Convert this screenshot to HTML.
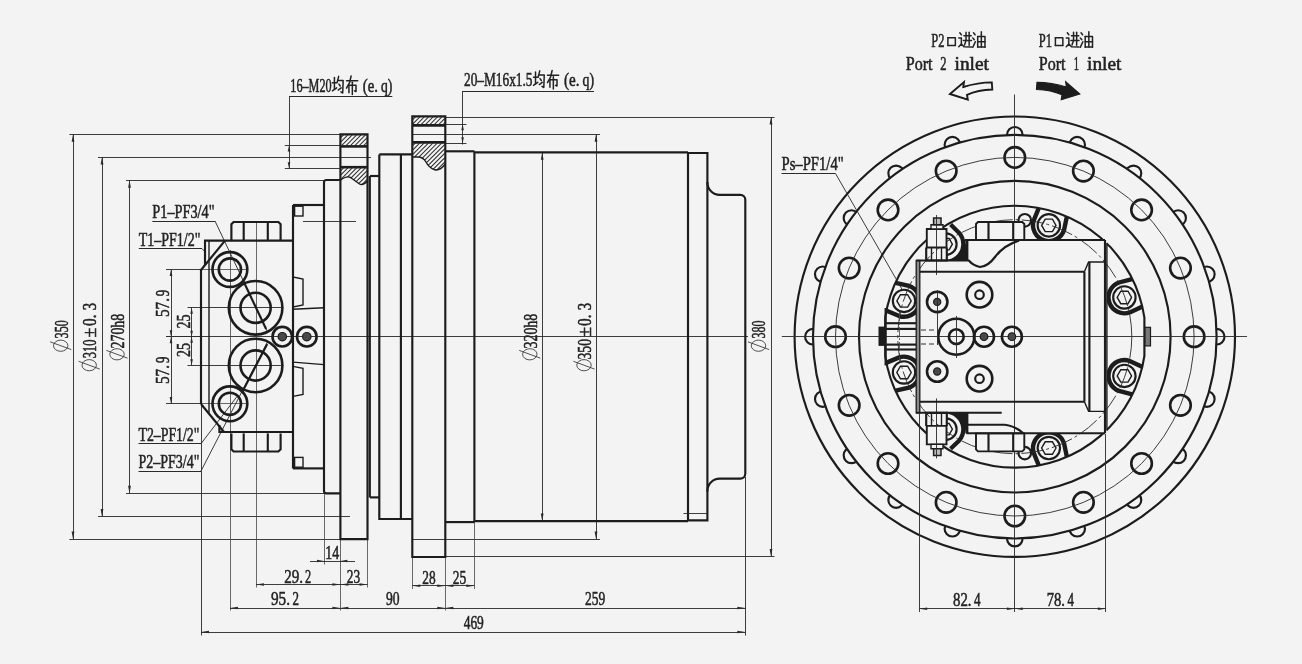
<!DOCTYPE html>
<html><head><meta charset="utf-8"><title>drawing</title>
<style>
html,body{margin:0;padding:0;background:#f3f3f3;}
body{width:1302px;height:664px;overflow:hidden;font-family:"Liberation Serif",serif;}
svg{display:block}
.k{fill:none;stroke:#1c1c1c;stroke-width:2.15;stroke-linecap:butt;stroke-linejoin:miter}
.k2{fill:none;stroke:#1c1c1c;stroke-width:2.6}
.m{fill:none;stroke:#1c1c1c;stroke-width:1.4}
.n{fill:none;stroke:#2c2c2c;stroke-width:0.92}
.u{fill:none;stroke:#2a2a2a;stroke-width:1.2}
.e{fill:none;stroke:#444;stroke-width:0.8}
.h{fill:none;stroke:#2a2a2a;stroke-width:1.05}
.a{fill:#2a2a2a;stroke:none}
.f{fill:#1c1c1c;stroke:none}
.g{fill:#4a4a4a;stroke:#1c1c1c;stroke-width:1.2}
.bg{fill:#f3f3f3;stroke:none}
.t{font-family:"Liberation Serif",serif;fill:#222;stroke:#222;stroke-width:0.55}
.c{fill:none;stroke:#222;stroke-width:1.5;stroke-linecap:round;stroke-linejoin:round}
</style></head><body>
<svg width="1302" height="664" viewBox="0 0 1302 664">
<defs><filter id="soft" x="0" y="0" width="100%" height="100%" filterUnits="userSpaceOnUse"><feGaussianBlur stdDeviation="0.42"/></filter></defs>
<rect class="bg" x="0" y="0" width="1302" height="664"/>
<g filter="url(#soft)">
<rect class="bg" x="0" y="0" width="1302" height="664"/>
<line class="n" x1="166.00" y1="336.50" x2="748.00" y2="336.50"/>
<line class="n" x1="69.40" y1="134.50" x2="340.40" y2="134.50"/>
<line class="n" x1="69.40" y1="539.50" x2="340.40" y2="539.50"/>
<line class="n" x1="73.50" y1="134.30" x2="73.50" y2="539.10"/>
<path class="a" d="M73.00,134.30 L74.40,141.80 L71.60,141.80 Z"/>
<path class="a" d="M73.00,539.10 L71.60,531.60 L74.40,531.60 Z"/>
<line class="n" x1="98.00" y1="157.50" x2="371.00" y2="157.50"/>
<line class="n" x1="98.00" y1="516.50" x2="350.00" y2="516.50"/>
<line class="n" x1="102.50" y1="157.00" x2="102.50" y2="516.40"/>
<path class="a" d="M102.00,157.00 L103.40,164.50 L100.60,164.50 Z"/>
<path class="a" d="M102.00,516.40 L100.60,508.90 L103.40,508.90 Z"/>
<line class="n" x1="126.00" y1="180.50" x2="324.00" y2="180.50"/>
<line class="n" x1="126.00" y1="493.50" x2="324.00" y2="493.50"/>
<line class="n" x1="129.50" y1="180.20" x2="129.50" y2="493.20"/>
<path class="a" d="M129.50,180.20 L130.90,187.70 L128.10,187.70 Z"/>
<path class="a" d="M129.50,493.20 L128.10,485.70 L130.90,485.70 Z"/>
<line class="n" x1="445.30" y1="117.50" x2="774.50" y2="117.50"/>
<line class="n" x1="445.30" y1="556.50" x2="774.50" y2="556.50"/>
<line class="n" x1="771.50" y1="117.00" x2="771.50" y2="556.40"/>
<path class="a" d="M771.00,117.00 L772.40,124.50 L769.60,124.50 Z"/>
<path class="a" d="M771.00,556.40 L769.60,548.90 L772.40,548.90 Z"/>
<line class="n" x1="412.30" y1="134.50" x2="600.00" y2="134.50"/>
<line class="n" x1="412.00" y1="539.50" x2="600.00" y2="539.50"/>
<line class="n" x1="596.50" y1="134.30" x2="596.50" y2="539.10"/>
<path class="a" d="M596.00,134.30 L597.40,141.80 L594.60,141.80 Z"/>
<path class="a" d="M596.00,539.10 L594.60,531.60 L597.40,531.60 Z"/>
<line class="n" x1="542.50" y1="152.30" x2="542.50" y2="521.10"/>
<path class="a" d="M542.20,152.30 L543.60,159.80 L540.80,159.80 Z"/>
<path class="a" d="M542.20,521.10 L540.80,513.60 L543.60,513.60 Z"/>
<line class="u" x1="289.00" y1="96.50" x2="392.30" y2="96.50"/>
<line class="n" x1="289.50" y1="96.70" x2="289.50" y2="169.00"/>
<line class="n" x1="284.80" y1="145.50" x2="340.40" y2="145.50"/>
<line class="n" x1="284.80" y1="168.50" x2="340.40" y2="168.50"/>
<path class="a" d="M289.00,145.40 L290.30,151.40 L287.70,151.40 Z"/>
<path class="a" d="M289.00,168.30 L287.70,162.30 L290.30,162.30 Z"/>
<line class="u" x1="462.60" y1="91.50" x2="594.00" y2="91.50"/>
<line class="n" x1="462.50" y1="91.00" x2="462.50" y2="144.50"/>
<line class="n" x1="445.30" y1="124.50" x2="466.50" y2="124.50"/>
<line class="n" x1="445.30" y1="143.50" x2="466.50" y2="143.50"/>
<path class="a" d="M462.60,124.30 L463.90,130.30 L461.30,130.30 Z"/>
<path class="a" d="M462.60,143.20 L461.30,137.20 L463.90,137.20 Z"/>
<line class="n" x1="166.00" y1="269.50" x2="201.50" y2="269.50"/>
<line class="n" x1="166.00" y1="336.50" x2="201.50" y2="336.50"/>
<line class="n" x1="166.00" y1="403.50" x2="201.50" y2="403.50"/>
<line class="n" x1="171.50" y1="269.60" x2="171.50" y2="403.60"/>
<path class="a" d="M171.00,269.60 L172.30,276.10 L169.70,276.10 Z"/>
<path class="a" d="M171.00,336.70 L169.70,330.20 L172.30,330.20 Z"/>
<path class="a" d="M171.00,336.70 L172.30,343.20 L169.70,343.20 Z"/>
<path class="a" d="M171.00,403.60 L169.70,397.10 L172.30,397.10 Z"/>
<line class="n" x1="187.50" y1="307.50" x2="281.00" y2="307.50"/>
<line class="n" x1="187.50" y1="365.50" x2="281.00" y2="365.50"/>
<line class="n" x1="191.50" y1="307.70" x2="191.50" y2="365.20"/>
<path class="a" d="M191.60,307.70 L192.90,313.70 L190.30,313.70 Z"/>
<path class="a" d="M191.60,336.70 L190.30,330.70 L192.90,330.70 Z"/>
<path class="a" d="M191.60,336.70 L192.90,342.70 L190.30,342.70 Z"/>
<path class="a" d="M191.60,365.20 L190.30,359.20 L192.90,359.20 Z"/>
<line class="e" x1="201.00" y1="269.50" x2="246.00" y2="269.50"/>
<line class="e" x1="201.00" y1="403.50" x2="246.00" y2="403.50"/>
<line class="e" x1="230.50" y1="250.00" x2="230.50" y2="610.50"/>
<line class="e" x1="256.50" y1="222.00" x2="256.50" y2="587.50"/>
<line class="n" x1="201.50" y1="404.00" x2="201.50" y2="635.50"/>
<line class="u" x1="152.30" y1="221.50" x2="215.00" y2="221.50"/>
<line class="n" x1="215.00" y1="221.00" x2="268.00" y2="333.00"/>
<line class="u" x1="138.80" y1="248.50" x2="202.00" y2="248.50"/>
<line class="n" x1="202.00" y1="248.60" x2="206.00" y2="253.00"/>
<line class="u" x1="138.50" y1="443.50" x2="201.00" y2="443.50"/>
<line class="n" x1="201.00" y1="443.70" x2="237.00" y2="396.50"/>
<line class="u" x1="138.50" y1="471.50" x2="201.00" y2="471.50"/>
<line class="n" x1="201.00" y1="471.00" x2="268.00" y2="341.00"/>
<line class="e" x1="324.50" y1="493.00" x2="324.50" y2="564.50"/>
<line class="e" x1="340.50" y1="539.50" x2="340.50" y2="610.50"/>
<line class="e" x1="367.50" y1="539.50" x2="367.50" y2="587.50"/>
<line class="e" x1="412.50" y1="556.70" x2="412.50" y2="589.00"/>
<line class="e" x1="445.50" y1="556.70" x2="445.50" y2="610.50"/>
<line class="e" x1="474.50" y1="522.00" x2="474.50" y2="589.00"/>
<line class="n" x1="745.50" y1="477.00" x2="745.50" y2="635.50"/>
<line class="n" x1="310.00" y1="561.50" x2="355.00" y2="561.50"/>
<path class="a" d="M324.00,561.00 L317.00,562.30 L317.00,559.70 Z"/>
<path class="a" d="M340.40,561.00 L347.40,559.70 L347.40,562.30 Z"/>
<line class="n" x1="256.00" y1="584.50" x2="367.50" y2="584.50"/>
<path class="a" d="M256.00,584.50 L264.00,583.20 L264.00,585.80 Z"/>
<path class="a" d="M340.40,584.50 L332.40,585.80 L332.40,583.20 Z"/>
<path class="a" d="M340.40,584.50 L348.40,583.20 L348.40,585.80 Z"/>
<path class="a" d="M367.50,584.50 L359.50,585.80 L359.50,583.20 Z"/>
<line class="n" x1="412.30" y1="585.50" x2="474.40" y2="585.50"/>
<path class="a" d="M412.30,585.70 L420.30,584.40 L420.30,587.00 Z"/>
<path class="a" d="M445.30,585.70 L437.30,587.00 L437.30,584.40 Z"/>
<path class="a" d="M445.30,585.70 L453.30,584.40 L453.30,587.00 Z"/>
<path class="a" d="M474.40,585.70 L466.40,587.00 L466.40,584.40 Z"/>
<line class="n" x1="230.00" y1="608.50" x2="445.30" y2="608.50"/>
<path class="a" d="M230.00,608.00 L238.00,606.70 L238.00,609.30 Z"/>
<path class="a" d="M340.40,608.00 L332.40,609.30 L332.40,606.70 Z"/>
<path class="a" d="M340.40,608.00 L348.40,606.70 L348.40,609.30 Z"/>
<path class="a" d="M445.30,608.00 L437.30,609.30 L437.30,606.70 Z"/>
<line class="n" x1="445.30" y1="608.50" x2="745.30" y2="608.50"/>
<path class="a" d="M445.30,608.00 L453.30,606.70 L453.30,609.30 Z"/>
<path class="a" d="M745.30,608.00 L737.30,609.30 L737.30,606.70 Z"/>
<line class="n" x1="201.00" y1="632.50" x2="745.30" y2="632.50"/>
<path class="a" d="M201.00,632.00 L209.00,630.70 L209.00,633.30 Z"/>
<path class="a" d="M745.30,632.00 L737.30,633.30 L737.30,630.70 Z"/>
<path class="k" d="M205.00,265.00 L205.00,240.60 L293.00,240.60"/>
<line class="k" x1="225.00" y1="240.60" x2="200.60" y2="270.50"/>
<line class="k" x1="201.00" y1="270.00" x2="201.00" y2="404.00"/>
<line class="k" x1="201.00" y1="404.00" x2="224.00" y2="432.00"/>
<line class="m" x1="209.00" y1="240.60" x2="209.00" y2="413.00"/>
<path class="k" d="M219.40,425.00 L219.40,432.00 L293.00,432.00"/>
<line class="k" x1="293.00" y1="205.00" x2="293.00" y2="468.40"/>
<path class="k" d="M231.40,240.60 L231.40,224.20 L233.60,222.00 L278.40,222.00 L280.60,224.20 L280.60,240.60"/>
<line class="k" x1="243.70" y1="240.60" x2="243.70" y2="222.00"/>
<line class="k" x1="267.80" y1="240.60" x2="267.80" y2="222.00"/>
<path class="k" d="M231.40,433.40 L231.40,449.30 L233.60,451.50 L278.40,451.50 L280.60,449.30 L280.60,433.40"/>
<line class="k" x1="243.70" y1="433.40" x2="243.70" y2="451.50"/>
<line class="k" x1="267.80" y1="433.40" x2="267.80" y2="451.50"/>
<circle class="k2" cx="229.90" cy="269.50" r="17.40"/>
<circle class="k2" cx="229.90" cy="269.50" r="11.10"/>
<circle class="k2" cx="229.90" cy="403.80" r="17.40"/>
<circle class="k2" cx="229.90" cy="403.80" r="11.10"/>
<circle class="k2" cx="255.60" cy="307.80" r="26.80"/>
<circle class="k2" cx="255.60" cy="307.80" r="15.10"/>
<circle class="k2" cx="255.60" cy="365.50" r="26.80"/>
<circle class="k2" cx="255.60" cy="365.50" r="15.10"/>
<circle class="k2" cx="282.30" cy="336.70" r="9.80"/>
<circle class="g" cx="282.30" cy="336.70" r="4.20"/>
<circle class="k2" cx="306.80" cy="336.70" r="9.80"/>
<circle class="g" cx="306.80" cy="336.70" r="4.20"/>
<line class="k" x1="242.90" y1="280.00" x2="266.10" y2="329.00"/>
<line class="k" x1="241.70" y1="393.00" x2="267.20" y2="344.00"/>
<path class="k" d="M293.00,205.00 L324.00,205.00"/>
<path class="k" d="M293.00,468.40 L324.00,468.40"/>
<rect class="m" x="294.60" y="206.20" width="8.40" height="9.80"/>
<rect class="m" x="294.60" y="457.40" width="8.40" height="9.80"/>
<line class="n" x1="303.00" y1="221.50" x2="356.00" y2="221.50"/>
<path class="m" d="M293.00,277.00 L303.00,279.00 L303.00,305.00 L293.00,307.00"/>
<line class="m" x1="293.00" y1="309.30" x2="324.00" y2="307.80"/>
<path class="m" d="M293.00,396.40 L303.00,394.40 L303.00,368.40 L293.00,366.40"/>
<line class="m" x1="293.00" y1="362.10" x2="324.00" y2="364.60"/>
<path class="k" d="M340.4,180 L326.5,180 Q324,180 324,182.5 L324,490.90 Q324,493.40 326.5,493.40 L340.4,493.40"/>
<path class="k" d="M340.40,134.30 L367.50,134.30 L367.50,539.10 L340.40,539.10 Z"/>
<line class="k" x1="369.80" y1="176.00" x2="369.80" y2="497.40"/>
<line class="k2" x1="340.40" y1="146.40" x2="367.50" y2="146.40"/>
<line class="k2" x1="340.40" y1="167.20" x2="367.50" y2="167.20"/>
<clipPath id="hc1"><path d="M340.4,134.3 H367.5 V146.4 H340.4 Z"/></clipPath>
<g clip-path="url(#hc1)">
<line class="h" x1="327.00" y1="147.00" x2="340.00" y2="134.00"/>
<line class="h" x1="331.40" y1="147.00" x2="344.40" y2="134.00"/>
<line class="h" x1="335.80" y1="147.00" x2="348.80" y2="134.00"/>
<line class="h" x1="340.20" y1="147.00" x2="353.20" y2="134.00"/>
<line class="h" x1="344.60" y1="147.00" x2="357.60" y2="134.00"/>
<line class="h" x1="349.00" y1="147.00" x2="362.00" y2="134.00"/>
<line class="h" x1="353.40" y1="147.00" x2="366.40" y2="134.00"/>
<line class="h" x1="357.80" y1="147.00" x2="370.80" y2="134.00"/>
<line class="h" x1="362.20" y1="147.00" x2="375.20" y2="134.00"/>
<line class="h" x1="366.60" y1="147.00" x2="379.60" y2="134.00"/>
<line class="h" x1="371.00" y1="147.00" x2="384.00" y2="134.00"/>
<line class="h" x1="375.40" y1="147.00" x2="388.40" y2="134.00"/>
<line class="h" x1="379.80" y1="147.00" x2="392.80" y2="134.00"/>
</g>
<clipPath id="hc2"><path d="M340.4,167.2 H367.5 V181 Q363,186 359.5,184 Q354,180 350.5,177.5 Q346.5,175.5 340.4,180.3 Z"/></clipPath>
<g clip-path="url(#hc2)">
<line class="h" x1="320.00" y1="187.00" x2="340.00" y2="167.00"/>
<line class="h" x1="324.40" y1="187.00" x2="344.40" y2="167.00"/>
<line class="h" x1="328.80" y1="187.00" x2="348.80" y2="167.00"/>
<line class="h" x1="333.20" y1="187.00" x2="353.20" y2="167.00"/>
<line class="h" x1="337.60" y1="187.00" x2="357.60" y2="167.00"/>
<line class="h" x1="342.00" y1="187.00" x2="362.00" y2="167.00"/>
<line class="h" x1="346.40" y1="187.00" x2="366.40" y2="167.00"/>
<line class="h" x1="350.80" y1="187.00" x2="370.80" y2="167.00"/>
<line class="h" x1="355.20" y1="187.00" x2="375.20" y2="167.00"/>
<line class="h" x1="359.60" y1="187.00" x2="379.60" y2="167.00"/>
<line class="h" x1="364.00" y1="187.00" x2="384.00" y2="167.00"/>
<line class="h" x1="368.40" y1="187.00" x2="388.40" y2="167.00"/>
<line class="h" x1="372.80" y1="187.00" x2="392.80" y2="167.00"/>
<line class="h" x1="377.20" y1="187.00" x2="397.20" y2="167.00"/>
<line class="h" x1="381.60" y1="187.00" x2="401.60" y2="167.00"/>
<line class="h" x1="386.00" y1="187.00" x2="406.00" y2="167.00"/>
</g>
<path class="m" d="M340.4,180.3 Q346.5,175.5 350.5,177.5 Q354,180 359.5,184 Q363,186 367.5,181"/>
<path class="k" d="M370.00,176.00 L379.30,176.00"/>
<path class="k" d="M370.00,497.40 L379.30,497.40"/>
<path class="k" d="M379.30,154.40 L379.30,519.00 L412.00,519.00"/>
<path class="k" d="M379.30,154.40 L412.00,154.40"/>
<line class="k" x1="400.90" y1="154.40" x2="400.90" y2="519.00"/>
<path class="k" d="M412.30,116.40 L445.30,116.40 L445.30,557.00 L412.30,557.00 Z"/>
<line class="k2" x1="412.30" y1="125.40" x2="445.30" y2="125.40"/>
<line class="k2" x1="412.30" y1="142.40" x2="445.30" y2="142.40"/>
<clipPath id="hc3"><path d="M412.3,116.4 H445.3 V125.4 H412.3 Z"/></clipPath>
<g clip-path="url(#hc3)">
<line class="h" x1="402.00" y1="126.00" x2="412.00" y2="116.00"/>
<line class="h" x1="406.40" y1="126.00" x2="416.40" y2="116.00"/>
<line class="h" x1="410.80" y1="126.00" x2="420.80" y2="116.00"/>
<line class="h" x1="415.20" y1="126.00" x2="425.20" y2="116.00"/>
<line class="h" x1="419.60" y1="126.00" x2="429.60" y2="116.00"/>
<line class="h" x1="424.00" y1="126.00" x2="434.00" y2="116.00"/>
<line class="h" x1="428.40" y1="126.00" x2="438.40" y2="116.00"/>
<line class="h" x1="432.80" y1="126.00" x2="442.80" y2="116.00"/>
<line class="h" x1="437.20" y1="126.00" x2="447.20" y2="116.00"/>
<line class="h" x1="441.60" y1="126.00" x2="451.60" y2="116.00"/>
<line class="h" x1="446.00" y1="126.00" x2="456.00" y2="116.00"/>
<line class="h" x1="450.40" y1="126.00" x2="460.40" y2="116.00"/>
<line class="h" x1="454.80" y1="126.00" x2="464.80" y2="116.00"/>
</g>
<clipPath id="hc4"><path d="M412.3,142.4 H445.3 V164 Q440,171 434.8,169.8 Q429,168 426,162 Q423,157 418,157 L412.3,157 Z"/></clipPath>
<g clip-path="url(#hc4)">
<line class="h" x1="383.00" y1="171.00" x2="412.00" y2="142.00"/>
<line class="h" x1="387.40" y1="171.00" x2="416.40" y2="142.00"/>
<line class="h" x1="391.80" y1="171.00" x2="420.80" y2="142.00"/>
<line class="h" x1="396.20" y1="171.00" x2="425.20" y2="142.00"/>
<line class="h" x1="400.60" y1="171.00" x2="429.60" y2="142.00"/>
<line class="h" x1="405.00" y1="171.00" x2="434.00" y2="142.00"/>
<line class="h" x1="409.40" y1="171.00" x2="438.40" y2="142.00"/>
<line class="h" x1="413.80" y1="171.00" x2="442.80" y2="142.00"/>
<line class="h" x1="418.20" y1="171.00" x2="447.20" y2="142.00"/>
<line class="h" x1="422.60" y1="171.00" x2="451.60" y2="142.00"/>
<line class="h" x1="427.00" y1="171.00" x2="456.00" y2="142.00"/>
<line class="h" x1="431.40" y1="171.00" x2="460.40" y2="142.00"/>
<line class="h" x1="435.80" y1="171.00" x2="464.80" y2="142.00"/>
<line class="h" x1="440.20" y1="171.00" x2="469.20" y2="142.00"/>
<line class="h" x1="444.60" y1="171.00" x2="473.60" y2="142.00"/>
<line class="h" x1="449.00" y1="171.00" x2="478.00" y2="142.00"/>
<line class="h" x1="453.40" y1="171.00" x2="482.40" y2="142.00"/>
<line class="h" x1="457.80" y1="171.00" x2="486.80" y2="142.00"/>
<line class="h" x1="462.20" y1="171.00" x2="491.20" y2="142.00"/>
<line class="h" x1="466.60" y1="171.00" x2="495.60" y2="142.00"/>
<line class="h" x1="471.00" y1="171.00" x2="500.00" y2="142.00"/>
</g>
<path class="m" d="M412.3,157 L418,157 Q423,157 426,162 Q429,168 434.8,169.8 Q440,171 445.3,164"/>
<path class="k" d="M445.30,151.30 L474.40,151.30"/>
<path class="k" d="M445.30,522.10 L474.40,522.10"/>
<line class="k" x1="474.40" y1="151.30" x2="474.40" y2="522.10"/>
<path class="k" d="M474.40,152.30 L688.00,152.30"/>
<path class="k" d="M474.40,521.10 L688.00,521.10"/>
<line class="k" x1="688.00" y1="152.30" x2="688.00" y2="521.10"/>
<path class="k" d="M688,153 L707.4,153 L707.4,182.5 A12.3,12.3 0 0,0 719.7,194.8 L740.3,194.8 A5,5 0 0,1 745.3,199.8 L745.3,473.60 A5,5 0 0,1 740.3,478.60 L719.7,478.60 A12.3,12.3 0 0,0 707.4,490.90 L707.4,520.40 L688,520.40"/>
<line class="k" x1="707.40" y1="182.00" x2="707.40" y2="491.40"/>
<line class="n" x1="683.50" y1="513.50" x2="707.00" y2="513.50"/>
<circle class="k" cx="1014.80" cy="336.70" r="220.20"/>
<circle class="k" cx="1014.80" cy="336.70" r="201.80"/>
<circle class="k" cx="1014.80" cy="336.70" r="155.80"/>
<clipPath id="oc"><path clip-rule="evenodd" d="M774.8,96.69999999999999 h480 v480 h-480 Z M813.4,336.7 a201.4,201.4 0 1,0 402.8,0 a201.4,201.4 0 1,0 -402.8,0 Z"/></clipPath>
<g clip-path="url(#oc)">
<circle class="k" cx="1014.80" cy="134.80" r="7.80"/>
<circle class="k" cx="1077.19" cy="144.68" r="7.80"/>
<circle class="k" cx="1133.47" cy="173.36" r="7.80"/>
<circle class="k" cx="1178.14" cy="218.03" r="7.80"/>
<circle class="k" cx="1206.82" cy="274.31" r="7.80"/>
<circle class="k" cx="1216.70" cy="336.70" r="7.80"/>
<circle class="k" cx="1206.82" cy="399.09" r="7.80"/>
<circle class="k" cx="1178.14" cy="455.37" r="7.80"/>
<circle class="k" cx="1133.47" cy="500.04" r="7.80"/>
<circle class="k" cx="1077.19" cy="528.72" r="7.80"/>
<circle class="k" cx="1014.80" cy="538.60" r="7.80"/>
<circle class="k" cx="952.41" cy="528.72" r="7.80"/>
<circle class="k" cx="896.13" cy="500.04" r="7.80"/>
<circle class="k" cx="851.46" cy="455.37" r="7.80"/>
<circle class="k" cx="822.78" cy="399.09" r="7.80"/>
<circle class="k" cx="812.90" cy="336.70" r="7.80"/>
<circle class="k" cx="822.78" cy="274.31" r="7.80"/>
<circle class="k" cx="851.46" cy="218.03" r="7.80"/>
<circle class="k" cx="896.13" cy="173.36" r="7.80"/>
<circle class="k" cx="952.41" cy="144.68" r="7.80"/>
</g>
<circle class="k2" cx="1014.80" cy="157.40" r="10.30"/>
<circle class="k2" cx="1083.42" cy="171.05" r="10.30"/>
<circle class="k2" cx="1141.58" cy="209.92" r="10.30"/>
<circle class="k2" cx="1180.45" cy="268.08" r="10.30"/>
<circle class="k2" cx="1194.10" cy="336.70" r="10.30"/>
<circle class="k2" cx="1180.45" cy="405.32" r="10.30"/>
<circle class="k2" cx="1141.58" cy="463.48" r="10.30"/>
<circle class="k2" cx="1083.42" cy="502.35" r="10.30"/>
<circle class="k2" cx="1014.80" cy="516.00" r="10.30"/>
<circle class="k2" cx="946.18" cy="502.35" r="10.30"/>
<circle class="k2" cx="888.02" cy="463.48" r="10.30"/>
<circle class="k2" cx="849.15" cy="405.32" r="10.30"/>
<circle class="k2" cx="835.50" cy="336.70" r="10.30"/>
<circle class="k2" cx="849.15" cy="268.08" r="10.30"/>
<circle class="k2" cx="888.02" cy="209.92" r="10.30"/>
<circle class="k2" cx="946.18" cy="171.05" r="10.30"/>
<path class="k" d="M1144.40,317.60 A131,131 0 0,0 885.20,317.60 L885.20,355.80 A131,131 0 0,0 1144.40,355.80 Z"/>
<path d="M1066.84,216.77 L1064.04,230.03 A15.9,15.9 0 0,1 1033.63,220.74 L1038.72,208.18" fill="none" stroke="#1c1c1c" stroke-width="4.4"/>
<circle class="k" cx="1048.83" cy="225.39" r="11.20"/>
<path class="m" d="M1056.03,225.39 L1052.43,231.62 L1045.23,231.62 L1041.63,225.39 L1045.23,219.15 L1052.43,219.15 Z"/>
<path d="M1142.05,306.75 L1129.75,312.43 A15.9,15.9 0 0,1 1119.03,282.49 L1132.14,279.07" fill="none" stroke="#1c1c1c" stroke-width="4.4"/>
<circle class="k" cx="1124.39" cy="297.46" r="11.20"/>
<path class="m" d="M1131.59,297.46 L1127.99,303.70 L1120.79,303.70 L1117.19,297.46 L1120.79,291.23 L1127.99,291.23 Z"/>
<path d="M1132.14,394.33 L1119.03,390.91 A15.9,15.9 0 0,1 1129.75,360.97 L1142.05,366.65" fill="none" stroke="#1c1c1c" stroke-width="4.4"/>
<circle class="k" cx="1124.39" cy="375.94" r="11.20"/>
<path class="m" d="M1131.59,375.94 L1127.99,382.17 L1120.79,382.17 L1117.19,375.94 L1120.79,369.70 L1127.99,369.70 Z"/>
<path d="M1038.72,465.22 L1033.63,452.66 A15.9,15.9 0 0,1 1064.04,443.37 L1066.84,456.63" fill="none" stroke="#1c1c1c" stroke-width="4.4"/>
<circle class="k" cx="1048.83" cy="448.01" r="11.20"/>
<path class="m" d="M1056.03,448.01 L1052.43,454.25 L1045.23,454.25 L1041.63,448.01 L1045.23,441.78 L1052.43,441.78 Z"/>
<path d="M886.67,362.64 L899.15,357.35 A15.9,15.9 0 0,1 908.92,387.61 L895.71,390.61" fill="none" stroke="#1c1c1c" stroke-width="4.4"/>
<circle class="k" cx="904.03" cy="372.48" r="11.20"/>
<path class="m" d="M911.23,372.48 L907.63,378.71 L900.43,378.71 L896.83,372.48 L900.43,366.24 L907.63,366.24 Z"/>
<path d="M895.71,282.79 L908.92,285.79 A15.9,15.9 0 0,1 899.15,316.05 L886.67,310.76" fill="none" stroke="#1c1c1c" stroke-width="4.4"/>
<circle class="k" cx="904.03" cy="300.92" r="11.20"/>
<path class="m" d="M911.23,300.92 L907.63,307.16 L900.43,307.16 L896.83,300.92 L900.43,294.69 L907.63,294.69 Z"/>
<path d="M916.2,260.5 L966,260.5 L966,240 L1106.9,240 L1106.9,433.2 L966,433.2 L966,412.7 L916.2,412.7 Z" fill="#f3f3f3"/>
<line class="n" x1="1014.50" y1="94.50" x2="1014.50" y2="612.00"/>
<line class="n" x1="781.80" y1="336.50" x2="1247.00" y2="336.50"/>
<circle class="n" cx="1014.80" cy="336.70" r="179.30"/>
<circle class="n" cx="1014.8" cy="336.7" r="117" stroke-dasharray="22 3 3 3"/>
<line class="n" x1="919.50" y1="414.00" x2="919.50" y2="612.00"/>
<line class="n" x1="1105.50" y1="434.00" x2="1105.50" y2="612.00"/>
<line class="n" x1="919.20" y1="608.50" x2="1105.80" y2="608.50"/>
<path class="a" d="M919.20,608.70 L927.20,607.40 L927.20,610.00 Z"/>
<path class="a" d="M1014.80,608.70 L1006.80,610.00 L1006.80,607.40 Z"/>
<path class="a" d="M1014.80,608.70 L1022.80,607.40 L1022.80,610.00 Z"/>
<path class="a" d="M1105.80,608.70 L1097.80,610.00 L1097.80,607.40 Z"/>
<line class="u" x1="781.50" y1="173.50" x2="835.50" y2="173.50"/>
<line class="n" x1="835.50" y1="173.50" x2="903.00" y2="291.00"/>
<clipPath id="fb2"><rect x="946.8" y="205.00" width="34" height="55.5"/></clipPath>
<g clip-path="url(#fb2)">
<path d="M950.57,224.53 L959.21,232.95 A17.5,17.5 0 0,1 932.39,255.45 L925.60,245.48" fill="none" stroke="#1c1c1c" stroke-width="4.2"/>
<circle class="k" cx="945.80" cy="244.20" r="10.80"/>
<path class="m" d="M952.40,244.20 L949.10,249.92 L942.50,249.92 L939.20,244.20 L942.50,238.48 L949.10,238.48 Z"/>
<path d="M952,261.00 L968.4,261.00 L968.4,240.00 L965.5,240.00 Q966,254.00 952,261.00 Z" fill="#1c1c1c"/>
</g>
<path d="M926.8,247.50 L926.8,229.00 L946.5,229.00 L946.5,247.50 Z" fill="#f3f3f3" stroke="#1c1c1c" stroke-width="1.9"/>
<path d="M931,229.00 L931,224.70 L943,224.70 L943,229.00 Z" fill="#f3f3f3" stroke="#1c1c1c" stroke-width="1.4"/>
<path d="M933.6,224.70 L933.6,218.00 L941,218.00 L941,224.70 Z" fill="#bbb" stroke="#1c1c1c" stroke-width="1.5"/>
<path class="k" d="M926.20,247.50 L926.20,260.50 L946.80,260.50 L946.80,247.50"/>
<line class="m" x1="931.50" y1="247.50" x2="931.50" y2="260.50"/>
<line class="m" x1="941.50" y1="247.50" x2="941.50" y2="260.50"/>
<line class="n" x1="936.50" y1="215.00" x2="936.50" y2="275.00"/>
<circle class="k" cx="1024.80" cy="220.30" r="6.30"/>
<path d="M976,240.00 L976,224.00 L978,222.00 L1022.3,222.00 L1024.3,224.00 L1024.3,240.00 Z" fill="#f3f3f3" stroke="#1c1c1c" stroke-width="1.9"/>
<line class="k" x1="988.50" y1="240.00" x2="988.50" y2="222.50"/>
<line class="k" x1="1013.20" y1="240.00" x2="1013.20" y2="222.50"/>
<clipPath id="fb0"><rect x="946.8" y="412.90" width="34" height="55.5"/></clipPath>
<g clip-path="url(#fb0)">
<path d="M925.60,427.92 L932.39,417.95 A17.5,17.5 0 0,1 959.21,440.45 L950.57,448.87" fill="none" stroke="#1c1c1c" stroke-width="4.2"/>
<circle class="k" cx="945.80" cy="429.20" r="10.80"/>
<path class="m" d="M952.40,429.20 L949.10,434.92 L942.50,434.92 L939.20,429.20 L942.50,423.48 L949.10,423.48 Z"/>
<path d="M952,412.40 L968.4,412.40 L968.4,433.40 L965.5,433.40 Q966,419.40 952,412.40 Z" fill="#1c1c1c"/>
</g>
<path d="M926.8,425.90 L926.8,444.40 L946.5,444.40 L946.5,425.90 Z" fill="#f3f3f3" stroke="#1c1c1c" stroke-width="1.9"/>
<path d="M931,444.40 L931,448.70 L943,448.70 L943,444.40 Z" fill="#f3f3f3" stroke="#1c1c1c" stroke-width="1.4"/>
<path d="M933.6,448.70 L933.6,455.40 L941,455.40 L941,448.70 Z" fill="#bbb" stroke="#1c1c1c" stroke-width="1.5"/>
<path class="k" d="M926.20,425.90 L926.20,412.90 L946.80,412.90 L946.80,425.90"/>
<line class="m" x1="931.50" y1="425.90" x2="931.50" y2="412.90"/>
<line class="m" x1="941.50" y1="425.90" x2="941.50" y2="412.90"/>
<line class="n" x1="936.50" y1="458.40" x2="936.50" y2="398.40"/>
<circle class="k" cx="1024.80" cy="453.10" r="6.30"/>
<path d="M976,433.40 L976,449.40 L978,451.40 L1022.3,451.40 L1024.3,449.40 L1024.3,433.40 Z" fill="#f3f3f3" stroke="#1c1c1c" stroke-width="1.9"/>
<line class="k" x1="988.50" y1="433.40" x2="988.50" y2="450.90"/>
<line class="k" x1="1013.20" y1="433.40" x2="1013.20" y2="450.90"/>
<rect x="916.2" y="260.5" width="3.6" height="152.40" fill="#8a8a8a" stroke="#1c1c1c" stroke-width="1.3"/>
<path class="k" d="M916.2,260.5 L968.8,260.5 Q973,265.5 980,267 Q988,266.5 995,257 Q1004,245 1019,240.6"/>
<line class="k" x1="965.00" y1="240.00" x2="1105.00" y2="240.00"/>
<line class="k" x1="916.20" y1="412.70" x2="1001.70" y2="412.70"/>
<path class="k" d="M966.5,424.7 L1004.8,424.7 Q1015,426 1023,433"/>
<line class="k" x1="966.50" y1="433.20" x2="1105.00" y2="433.20"/>
<line class="m" x1="966.50" y1="412.70" x2="966.50" y2="433.20"/>
<line class="k" x1="1105.00" y1="240.00" x2="1105.00" y2="433.20"/>
<line class="m" x1="1106.90" y1="243.00" x2="1106.90" y2="430.50"/>
<line class="k" x1="919.80" y1="271.70" x2="1084.40" y2="271.70"/>
<line class="k" x1="919.80" y1="401.70" x2="1084.40" y2="401.70"/>
<line class="k" x1="1084.40" y1="271.70" x2="1084.40" y2="401.70"/>
<path class="m" d="M1084.40,271.70 L1088.60,262.00 L1105.00,262.00"/>
<path class="m" d="M1084.40,401.70 L1088.60,411.40 L1105.00,411.40"/>
<line class="k" x1="1089.40" y1="262.00" x2="1089.40" y2="411.40"/>
<circle class="k2" cx="937.20" cy="301.90" r="10.20"/>
<circle class="g" cx="937.20" cy="301.90" r="3.60"/>
<circle class="k2" cx="979.50" cy="294.70" r="12.80"/>
<circle class="k" cx="979.50" cy="294.70" r="4.30"/>
<circle class="k2" cx="937.20" cy="371.50" r="10.20"/>
<circle class="g" cx="937.20" cy="371.50" r="3.60"/>
<circle class="k2" cx="979.50" cy="378.70" r="12.80"/>
<circle class="k" cx="979.50" cy="378.70" r="4.30"/>
<circle class="k2" cx="956.30" cy="336.70" r="18.00"/>
<circle class="k2" cx="956.30" cy="336.70" r="7.40"/>
<circle class="k2" cx="984.00" cy="336.70" r="10.00"/>
<circle class="g" cx="984.00" cy="336.70" r="3.80"/>
<circle class="k2" cx="1011.90" cy="336.70" r="10.00"/>
<circle class="g" cx="1011.90" cy="336.70" r="3.80"/>
<line class="n" x1="956.50" y1="316.00" x2="956.50" y2="358.00"/>
<line class="n" x1="937.50" y1="290.00" x2="937.50" y2="345.00"/>
<line x1="921" y1="330" x2="938" y2="330" stroke="#333" stroke-width="1" stroke-dasharray="5 3"/>
<line x1="921" y1="344" x2="938" y2="344" stroke="#333" stroke-width="1" stroke-dasharray="5 3"/>
<line class="k" x1="885.60" y1="308.00" x2="885.60" y2="365.40"/>
<line class="k" x1="885.60" y1="323.20" x2="916.00" y2="323.20"/>
<line class="k" x1="885.60" y1="328.90" x2="916.00" y2="328.90"/>
<line class="k" x1="885.60" y1="344.60" x2="916.00" y2="344.60"/>
<line class="k" x1="885.60" y1="349.50" x2="916.00" y2="349.50"/>
<rect x="878.5" y="326.6" width="7.2" height="19.3" fill="#1c1c1c"/>
<line x1="899.5" y1="312" x2="899.5" y2="362" stroke="#444" stroke-width="0.8" stroke-dasharray="9 2 2 2"/>
<rect x="1145" y="327.3" width="5.5" height="18.6" fill="#777" stroke="#1c1c1c" stroke-width="1.2"/>
<g transform="translate(60.70 345.70) rotate(-90)"><ellipse cx="0" cy="0" rx="5.6" ry="7.2" fill="none" stroke="#333" stroke-width="0.85"/><line x1="-3.9" y1="10.6" x2="3.9" y2="-10.6" stroke="#333" stroke-width="0.85"/></g>
<text class="t" x="67.60" y="338.40" font-size="19.5" textLength="18.20" lengthAdjust="spacingAndGlyphs" transform="rotate(-90 67.60 338.40)">350</text>
<g transform="translate(89.20 365.20) rotate(-90)"><ellipse cx="0" cy="0" rx="5.6" ry="7.2" fill="none" stroke="#333" stroke-width="0.85"/><line x1="-3.9" y1="10.6" x2="3.9" y2="-10.6" stroke="#333" stroke-width="0.85"/></g>
<text class="t" x="96.00" y="358.20" font-size="19.5" textLength="18.70" lengthAdjust="spacingAndGlyphs" transform="rotate(-90 96.00 358.20)">310</text>
<text class="t" x="96.00" y="337.40" font-size="19.5" textLength="9.80" lengthAdjust="spacingAndGlyphs" transform="rotate(-90 96.00 337.40)">±</text>
<text class="t" x="96.00" y="326.00" font-size="19.5" textLength="11.50" lengthAdjust="spacingAndGlyphs" transform="rotate(-90 96.00 326.00)">0.</text>
<text class="t" x="96.00" y="310.20" font-size="19.5" textLength="7.40" lengthAdjust="spacingAndGlyphs" transform="rotate(-90 96.00 310.20)">3</text>
<g transform="translate(117.00 354.30) rotate(-90)"><ellipse cx="0" cy="0" rx="5.6" ry="7.2" fill="none" stroke="#333" stroke-width="0.85"/><line x1="-3.9" y1="10.6" x2="3.9" y2="-10.6" stroke="#333" stroke-width="0.85"/></g>
<text class="t" x="123.60" y="348.50" font-size="19.5" textLength="34.70" lengthAdjust="spacingAndGlyphs" transform="rotate(-90 123.60 348.50)">270h8</text>
<g transform="translate(529.80 354.30) rotate(-90)"><ellipse cx="0" cy="0" rx="5.6" ry="7.2" fill="none" stroke="#333" stroke-width="0.85"/><line x1="-3.9" y1="10.6" x2="3.9" y2="-10.6" stroke="#333" stroke-width="0.85"/></g>
<text class="t" x="537.00" y="348.50" font-size="19.5" textLength="34.70" lengthAdjust="spacingAndGlyphs" transform="rotate(-90 537.00 348.50)">320h8</text>
<g transform="translate(584.00 365.20) rotate(-90)"><ellipse cx="0" cy="0" rx="5.6" ry="7.2" fill="none" stroke="#333" stroke-width="0.85"/><line x1="-3.9" y1="10.6" x2="3.9" y2="-10.6" stroke="#333" stroke-width="0.85"/></g>
<text class="t" x="591.00" y="359.50" font-size="19.5" textLength="20.50" lengthAdjust="spacingAndGlyphs" transform="rotate(-90 591.00 359.50)">350</text>
<text class="t" x="591.00" y="336.80" font-size="19.5" textLength="9.80" lengthAdjust="spacingAndGlyphs" transform="rotate(-90 591.00 336.80)">±</text>
<text class="t" x="591.00" y="326.00" font-size="19.5" textLength="11.50" lengthAdjust="spacingAndGlyphs" transform="rotate(-90 591.00 326.00)">0.</text>
<text class="t" x="591.00" y="310.20" font-size="19.5" textLength="7.40" lengthAdjust="spacingAndGlyphs" transform="rotate(-90 591.00 310.20)">3</text>
<g transform="translate(758.50 345.70) rotate(-90)"><ellipse cx="0" cy="0" rx="5.6" ry="7.2" fill="none" stroke="#333" stroke-width="0.85"/><line x1="-3.9" y1="10.6" x2="3.9" y2="-10.6" stroke="#333" stroke-width="0.85"/></g>
<text class="t" x="765.00" y="338.40" font-size="19.5" textLength="17.90" lengthAdjust="spacingAndGlyphs" transform="rotate(-90 765.00 338.40)">380</text>
<text class="t" x="169.00" y="317.00" font-size="19.5" textLength="19.00" lengthAdjust="spacingAndGlyphs" transform="rotate(-90 169.00 317.00)">57.</text>
<text class="t" x="169.00" y="296.20" font-size="19.5" textLength="6.40" lengthAdjust="spacingAndGlyphs" transform="rotate(-90 169.00 296.20)">9</text>
<text class="t" x="169.00" y="384.00" font-size="19.5" textLength="19.00" lengthAdjust="spacingAndGlyphs" transform="rotate(-90 169.00 384.00)">57.</text>
<text class="t" x="169.00" y="363.00" font-size="19.5" textLength="6.40" lengthAdjust="spacingAndGlyphs" transform="rotate(-90 169.00 363.00)">9</text>
<text class="t" x="189.60" y="328.50" font-size="19.5" textLength="14.10" lengthAdjust="spacingAndGlyphs" transform="rotate(-90 189.60 328.50)">25</text>
<text class="t" x="189.60" y="357.00" font-size="19.5" textLength="14.00" lengthAdjust="spacingAndGlyphs" transform="rotate(-90 189.60 357.00)">25</text>
<text class="t" x="325.30" y="559.00" font-size="19.5" textLength="13.90" lengthAdjust="spacingAndGlyphs">14</text>
<text class="t" x="284.20" y="582.50" font-size="19.5" textLength="18.80" lengthAdjust="spacingAndGlyphs">29.</text>
<text class="t" x="305.00" y="582.50" font-size="19.5" textLength="6.20" lengthAdjust="spacingAndGlyphs">2</text>
<text class="t" x="346.80" y="582.50" font-size="19.5" textLength="13.40" lengthAdjust="spacingAndGlyphs">23</text>
<text class="t" x="422.30" y="583.50" font-size="19.5" textLength="13.40" lengthAdjust="spacingAndGlyphs">28</text>
<text class="t" x="452.80" y="583.50" font-size="19.5" textLength="13.50" lengthAdjust="spacingAndGlyphs">25</text>
<text class="t" x="271.00" y="605.30" font-size="19.5" textLength="19.00" lengthAdjust="spacingAndGlyphs">95.</text>
<text class="t" x="292.50" y="605.30" font-size="19.5" textLength="6.50" lengthAdjust="spacingAndGlyphs">2</text>
<text class="t" x="386.00" y="605.30" font-size="19.5" textLength="13.60" lengthAdjust="spacingAndGlyphs">90</text>
<text class="t" x="585.00" y="605.30" font-size="19.5" textLength="20.20" lengthAdjust="spacingAndGlyphs">259</text>
<text class="t" x="463.70" y="629.00" font-size="19.5" textLength="20.10" lengthAdjust="spacingAndGlyphs">469</text>
<text class="t" x="953.00" y="605.80" font-size="19.5" textLength="18.50" lengthAdjust="spacingAndGlyphs">82.</text>
<text class="t" x="974.00" y="605.80" font-size="19.5" textLength="6.60" lengthAdjust="spacingAndGlyphs">4</text>
<text class="t" x="1046.70" y="605.80" font-size="19.5" textLength="18.30" lengthAdjust="spacingAndGlyphs">78.</text>
<text class="t" x="1067.40" y="605.80" font-size="19.5" textLength="6.50" lengthAdjust="spacingAndGlyphs">4</text>
<text class="t" x="152.30" y="218.10" font-size="19.5" textLength="62.30" lengthAdjust="spacingAndGlyphs">P1–PF3/4&quot;</text>
<text class="t" x="138.80" y="245.60" font-size="19.5" textLength="61.60" lengthAdjust="spacingAndGlyphs">T1–PF1/2&quot;</text>
<text class="t" x="138.50" y="440.60" font-size="19.5" textLength="60.90" lengthAdjust="spacingAndGlyphs">T2–PF1/2&quot;</text>
<text class="t" x="138.50" y="467.50" font-size="19.5" textLength="60.90" lengthAdjust="spacingAndGlyphs">P2–PF3/4&quot;</text>
<text class="t" x="781.50" y="169.50" font-size="19.5" textLength="62.20" lengthAdjust="spacingAndGlyphs">Ps–PF1/4&quot;</text>
<text class="t" x="290.30" y="91.60" font-size="19.5" textLength="41.30" lengthAdjust="spacingAndGlyphs">16–M20</text>
<path class="c" d="M332.40,82.66 L336.43,82.66"/>
<path class="c" d="M334.42,77.48 L334.42,89.32"/>
<path class="c" d="M332.40,90.80 L336.66,87.84"/>
<path class="c" d="M338.67,76.37 L337.10,82.66"/>
<path class="c" d="M338.00,80.44 L343.15,80.44 L342.70,93.02 L340.91,91.91"/>
<path class="c" d="M338.90,84.14 L340.24,85.99"/>
<path class="c" d="M338.22,90.06 L341.14,87.84"/>
<path class="c" d="M346.49,80.81 L357.71,80.81"/>
<path class="c" d="M351.12,76.00 L349.66,82.29 L346.49,88.21"/>
<path class="c" d="M348.93,85.25 L348.93,92.65"/>
<path class="c" d="M348.93,85.25 L356.00,85.25 L356.00,91.54 L354.54,90.80"/>
<path class="c" d="M352.34,82.29 L352.34,94.50"/>
<text class="t" x="362.80" y="91.60" font-size="19.5" textLength="15.20" lengthAdjust="spacingAndGlyphs">(e.</text>
<text class="t" x="381.00" y="91.60" font-size="19.5" textLength="11.40" lengthAdjust="spacingAndGlyphs">q)</text>
<text class="t" x="464.00" y="86.00" font-size="19.5" textLength="68.50" lengthAdjust="spacingAndGlyphs">20–M16x1.5</text>
<path class="c" d="M533.50,77.16 L537.53,77.16"/>
<path class="c" d="M535.52,71.98 L535.52,83.82"/>
<path class="c" d="M533.50,85.30 L537.76,82.34"/>
<path class="c" d="M539.77,70.87 L538.20,77.16"/>
<path class="c" d="M539.10,74.94 L544.25,74.94 L543.80,87.52 L542.01,86.41"/>
<path class="c" d="M540.00,78.64 L541.34,80.49"/>
<path class="c" d="M539.32,84.56 L542.24,82.34"/>
<path class="c" d="M547.49,75.31 L558.71,75.31"/>
<path class="c" d="M552.12,70.50 L550.66,76.79 L547.49,82.71"/>
<path class="c" d="M549.93,79.75 L549.93,87.15"/>
<path class="c" d="M549.93,79.75 L557.00,79.75 L557.00,86.04 L555.54,85.30"/>
<path class="c" d="M553.34,76.79 L553.34,89.00"/>
<text class="t" x="564.00" y="86.00" font-size="19.5" textLength="15.50" lengthAdjust="spacingAndGlyphs">(e.</text>
<text class="t" x="582.50" y="86.00" font-size="19.5" textLength="11.50" lengthAdjust="spacingAndGlyphs">q)</text>
<text class="t" x="931.30" y="46.50" font-size="19.5" textLength="13.20" lengthAdjust="spacingAndGlyphs">P2</text>
<path class="c" d="M947.90,37.76 L947.90,45.44"/>
<path class="c" d="M947.90,37.76 L955.34,37.76 L955.34,45.44"/>
<path class="c" d="M947.90,45.44 L955.34,45.44"/>
<path class="c" d="M959.80,32.82 L961.36,34.80"/>
<path class="c" d="M958.76,38.10 L961.36,38.10 L961.36,44.04"/>
<path class="c" d="M958.76,46.68 L961.36,44.04 L963.96,46.68 L971.50,47.01"/>
<path class="c" d="M963.96,35.79 L971.24,35.79"/>
<path class="c" d="M963.44,40.41 L971.50,40.41"/>
<path class="c" d="M966.04,32.16 L966.04,40.41 L964.48,45.03"/>
<path class="c" d="M969.16,32.16 L969.16,45.36"/>
<path class="c" d="M973.54,32.82 L975.10,34.80"/>
<path class="c" d="M972.76,38.10 L974.32,39.75"/>
<path class="c" d="M972.76,47.34 L975.36,41.73"/>
<path class="c" d="M977.70,36.45 L977.70,47.34"/>
<path class="c" d="M977.70,36.45 L984.98,36.45 L984.98,47.34"/>
<path class="c" d="M977.70,41.73 L984.98,41.73"/>
<path class="c" d="M977.70,47.01 L984.98,47.01"/>
<path class="c" d="M981.34,31.83 L981.34,47.01"/>
<text class="t" x="905.70" y="70.30" font-size="19.5" textLength="26.80" lengthAdjust="spacingAndGlyphs">Port</text>
<text class="t" x="940.30" y="70.30" font-size="19.5" textLength="6.30" lengthAdjust="spacingAndGlyphs">2</text>
<text class="t" x="954.50" y="70.30" font-size="19.5" textLength="34.40" lengthAdjust="spacingAndGlyphs">inlet</text>
<text class="t" x="1038.80" y="46.50" font-size="19.5" textLength="13.20" lengthAdjust="spacingAndGlyphs">P1</text>
<path class="c" d="M1055.40,37.76 L1055.40,45.44"/>
<path class="c" d="M1055.40,37.76 L1062.84,37.76 L1062.84,45.44"/>
<path class="c" d="M1055.40,45.44 L1062.84,45.44"/>
<path class="c" d="M1067.30,32.82 L1068.86,34.80"/>
<path class="c" d="M1066.26,38.10 L1068.86,38.10 L1068.86,44.04"/>
<path class="c" d="M1066.26,46.68 L1068.86,44.04 L1071.46,46.68 L1079.00,47.01"/>
<path class="c" d="M1071.46,35.79 L1078.74,35.79"/>
<path class="c" d="M1070.94,40.41 L1079.00,40.41"/>
<path class="c" d="M1073.54,32.16 L1073.54,40.41 L1071.98,45.03"/>
<path class="c" d="M1076.66,32.16 L1076.66,45.36"/>
<path class="c" d="M1081.04,32.82 L1082.60,34.80"/>
<path class="c" d="M1080.26,38.10 L1081.82,39.75"/>
<path class="c" d="M1080.26,47.34 L1082.86,41.73"/>
<path class="c" d="M1085.20,36.45 L1085.20,47.34"/>
<path class="c" d="M1085.20,36.45 L1092.48,36.45 L1092.48,47.34"/>
<path class="c" d="M1085.20,41.73 L1092.48,41.73"/>
<path class="c" d="M1085.20,47.01 L1092.48,47.01"/>
<path class="c" d="M1088.84,31.83 L1088.84,47.01"/>
<text class="t" x="1038.80" y="70.30" font-size="19.5" textLength="26.70" lengthAdjust="spacingAndGlyphs">Port</text>
<text class="t" x="1073.80" y="70.30" font-size="19.5" textLength="5.20" lengthAdjust="spacingAndGlyphs">1</text>
<text class="t" x="1087.00" y="70.30" font-size="19.5" textLength="34.40" lengthAdjust="spacingAndGlyphs">inlet</text>
<path d="M950,94 L964,82 L963.3,87 Q978,82.5 991.8,82.4 L992.3,89.5 Q978,90 967,94.8 L967.8,99.7 Z" fill="#f3f3f3" stroke="#1c1c1c" stroke-width="1.9" stroke-linejoin="miter"/>
<path d="M1079.7,94 L1065.7,81.8 L1066.4,87 Q1052,82.5 1037,82.4 L1036.5,89.5 Q1051,90 1062,94.8 L1061.3,99.7 Z" fill="#1c1c1c" stroke="#1c1c1c" stroke-width="1.2" stroke-linejoin="miter"/>
</g>
</svg>
</body></html>
